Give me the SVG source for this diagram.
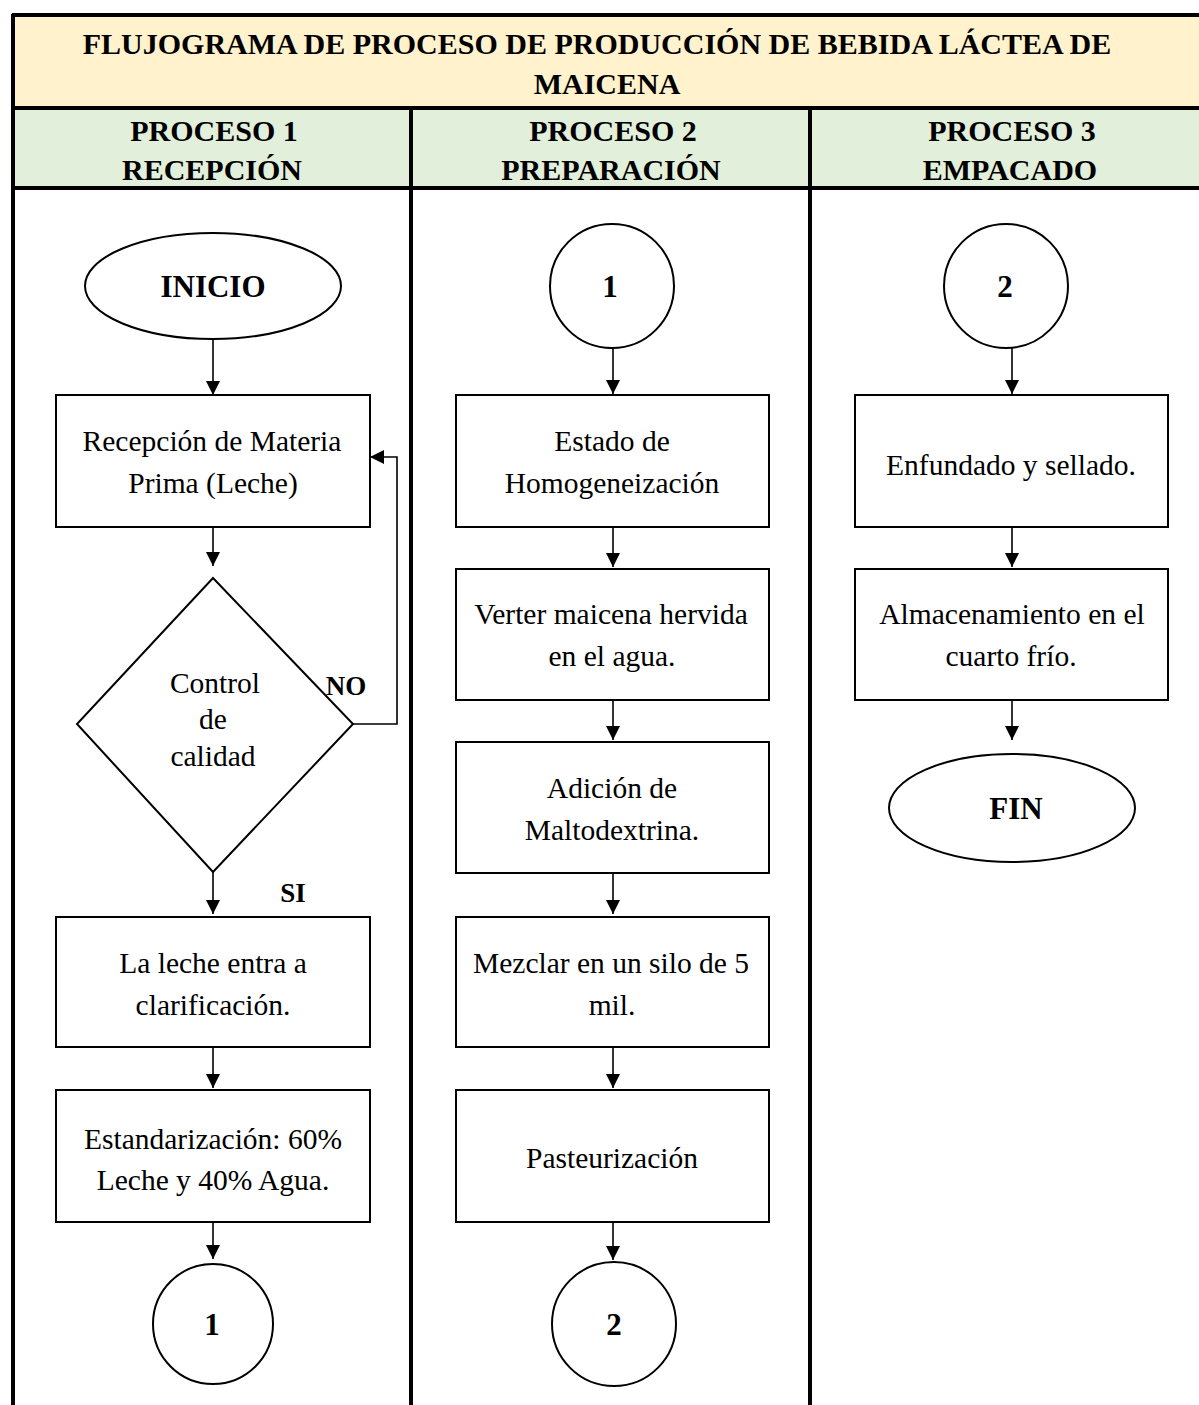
<svg xmlns="http://www.w3.org/2000/svg" width="1199" height="1405" viewBox="0 0 1199 1405">
<style>
.t{font-family:"Liberation Serif","Times New Roman",serif;font-size:29.5px;fill:#000;text-anchor:middle}
.b{font-weight:bold;font-size:31px}
.lbl{font-family:"Liberation Serif","Times New Roman",serif;font-size:27px;font-weight:bold;fill:#000;text-anchor:middle}
.h{font-family:"Liberation Serif","Times New Roman",serif;font-size:30px;font-weight:bold;fill:#000;text-anchor:middle}
.box{fill:#fff;stroke:#000;stroke-width:2}
.con{stroke:#000;stroke-width:1.6;fill:none}
.grid{stroke:#000;stroke-width:4;fill:none}
</style>
<defs>
<marker id="ah" viewBox="0 0 14 16" refX="14" refY="8" markerWidth="14" markerHeight="16" markerUnits="userSpaceOnUse" orient="auto">
<path d="M0,1 L14,8 L0,15 Z" fill="#000"/>
</marker>
</defs>
<rect width="1199" height="1405" fill="#fff"/>
<g id="table">
<rect x="12" y="14" width="1190" height="94" fill="#FFF2CC"/>
<rect x="12" y="108" width="1190" height="80" fill="#E2EFDA"/>
<line class="grid" x1="12" y1="15" x2="1199" y2="15" stroke-width="3"/>
<line class="grid" x1="13" y1="14" x2="13" y2="1405" stroke-width="3"/>
<line class="grid" x1="12" y1="108" x2="1199" y2="108" stroke-width="3"/>
<line class="grid" x1="12" y1="188" x2="1199" y2="188"/>
<line class="grid" x1="411" y1="108" x2="411" y2="1405"/>
<line class="grid" x1="810" y1="108" x2="810" y2="1405"/>
<text class="h" x="597" y="54">FLUJOGRAMA DE PROCESO DE PRODUCCIÓN DE BEBIDA LÁCTEA DE</text>
<text class="h" x="607" y="94">MAICENA</text>
<text class="h" x="214" y="141">PROCESO 1</text>
<text class="h" x="212" y="180">RECEPCIÓN</text>
<text class="h" x="613" y="141">PROCESO 2</text>
<text class="h" x="611" y="180">PREPARACIÓN</text>
<text class="h" x="1012" y="141">PROCESO 3</text>
<text class="h" x="1010" y="180">EMPACADO</text>
</g>
<g id="connectors">
<line class="con" x1="213" y1="340" x2="213" y2="395" marker-end="url(#ah)"/>
<line class="con" x1="213" y1="527" x2="213" y2="566" marker-end="url(#ah)"/>
<polyline class="con" points="353,724 397,724 397,457 370,457" marker-end="url(#ah)"/>
<line class="con" x1="213" y1="872" x2="213" y2="914" marker-end="url(#ah)"/>
<line class="con" x1="213" y1="1047" x2="213" y2="1088" marker-end="url(#ah)"/>
<line class="con" x1="213" y1="1222" x2="213" y2="1259" marker-end="url(#ah)"/>
<line class="con" x1="613" y1="348" x2="613" y2="394" marker-end="url(#ah)"/>
<line class="con" x1="613" y1="527" x2="613" y2="567" marker-end="url(#ah)"/>
<line class="con" x1="613" y1="700" x2="613" y2="740" marker-end="url(#ah)"/>
<line class="con" x1="613" y1="873" x2="613" y2="914" marker-end="url(#ah)"/>
<line class="con" x1="613" y1="1047" x2="613" y2="1088" marker-end="url(#ah)"/>
<line class="con" x1="613" y1="1222" x2="613" y2="1260" marker-end="url(#ah)"/>
<line class="con" x1="1012" y1="348" x2="1012" y2="394" marker-end="url(#ah)"/>
<line class="con" x1="1012" y1="527" x2="1012" y2="567" marker-end="url(#ah)"/>
<line class="con" x1="1012" y1="700" x2="1012" y2="740" marker-end="url(#ah)"/>
<text class="lbl" x="346" y="695">NO</text>
<text class="lbl" x="293" y="902">SI</text>
</g>
<g id="inicio"><ellipse class="box" cx="213" cy="286" rx="128" ry="53"/><text class="t b" x="213" y="297">INICIO</text></g>
<g id="recepcion"><rect class="box" x="56" y="395" width="314" height="132"/><text class="t" x="212" y="451">Recepción de Materia</text><text class="t" x="213" y="493">Prima (Leche)</text></g>
<g id="control"><polygon class="box" points="213,578 353,724 213,872 77,724"/><text class="t" x="215" y="693">Control</text><text class="t" x="213" y="729">de</text><text class="t" x="213" y="766">calidad</text></g>
<g id="clarificacion"><rect class="box" x="56" y="917" width="314" height="130"/><text class="t" x="213" y="973">La leche entra a</text><text class="t" x="213" y="1015">clarificación.</text></g>
<g id="estandarizacion"><rect class="box" x="56" y="1090" width="314" height="132"/><text class="t" x="213" y="1149">Estandarización: 60%</text><text class="t" x="213" y="1190">Leche y 40% Agua.</text></g>
<g id="c1out"><circle class="box" cx="213" cy="1324" r="60"/><text class="t b" x="212" y="1335">1</text></g>
<g id="c1in"><circle class="box" cx="612" cy="286" r="62"/><text class="t b" x="610" y="297">1</text></g>
<g id="homog"><rect class="box" x="456" y="395" width="313" height="132"/><text class="t" x="612" y="451">Estado de</text><text class="t" x="612" y="493">Homogeneización</text></g>
<g id="verter"><rect class="box" x="456" y="569" width="313" height="131"/><text class="t" x="611" y="624">Verter maicena hervida</text><text class="t" x="612" y="666">en el agua.</text></g>
<g id="adicion"><rect class="box" x="456" y="742" width="313" height="131"/><text class="t" x="612" y="798">Adición de</text><text class="t" x="612" y="840">Maltodextrina.</text></g>
<g id="mezclar"><rect class="box" x="456" y="917" width="313" height="130"/><text class="t" x="611" y="973">Mezclar en un silo de 5</text><text class="t" x="612" y="1015">mil.</text></g>
<g id="pasteur"><rect class="box" x="456" y="1090" width="313" height="132"/><text class="t" x="612" y="1168">Pasteurización</text></g>
<g id="c2out"><circle class="box" cx="614" cy="1324" r="62"/><text class="t b" x="614" y="1335">2</text></g>
<g id="c2in"><circle class="box" cx="1006" cy="286" r="62"/><text class="t b" x="1005" y="297">2</text></g>
<g id="enfundado"><rect class="box" x="855" y="395" width="313" height="132"/><text class="t" x="1011" y="475">Enfundado y sellado.</text></g>
<g id="almacen"><rect class="box" x="855" y="569" width="313" height="131"/><text class="t" x="1012" y="624">Almacenamiento en el</text><text class="t" x="1011" y="666">cuarto frío.</text></g>
<g id="fin"><ellipse class="box" cx="1012" cy="808" rx="123" ry="54"/><text class="t b" x="1016" y="819">FIN</text></g>
</svg>
